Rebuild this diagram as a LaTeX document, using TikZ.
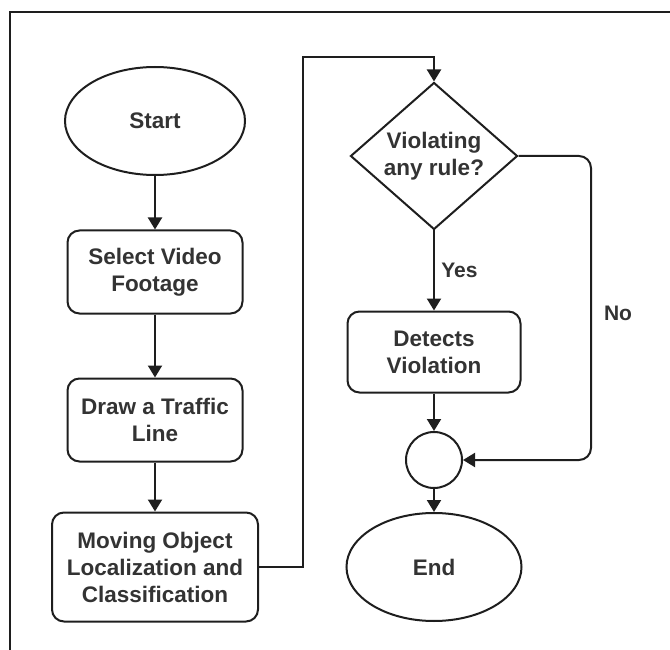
\documentclass[tikz,border=0pt]{standalone}
\usepackage{fontspec}
\setmainfont{Liberation Sans}
\usetikzlibrary{shapes.geometric,arrows.meta}
\definecolor{ln}{HTML}{1E1E1E}
\definecolor{tx}{HTML}{333333}
\begin{document}
\begin{tikzpicture}[x=1pt,y=-1pt,
  every node/.style={font=\fontsize{22.5}{27}\selectfont\bfseries, text=tx, align=center},
  shp/.style={draw=ln, line width=2pt, inner sep=0pt},
  box/.style={shp, rectangle, rounded corners=12pt},
  oval/.style={shp, ellipse},
  conn/.style={draw=ln, line width=2pt, -{Triangle[length=12pt,width=14pt]}},
  lbl/.style={font=\fontsize{21}{25}\selectfont\bfseries}]
\useasboundingbox (0,0) rectangle (670,650);
\draw[ln, line width=2pt] (10,652) -- (10,12) -- (672,12);

\node[oval, minimum width=180pt, minimum height=108pt] (start) at (155,121) {Start};
\node[box, minimum width=175pt, minimum height=83pt] (sel) at (155,272) {Select Video\\Footage};
\node[box, minimum width=175pt, minimum height=83pt] (drw) at (155,420) {Draw a Traffic\\Line};
\node[box, minimum width=206pt, minimum height=109pt] (mov) at (155,567) {Moving Object\\Localization and\\Classification};

\node[shp, diamond, minimum width=167pt, minimum height=147pt] (dia) at (434,156) {};
\node (diatext) at (dia.center) {Violating\\any rule?};
\node[box, minimum width=173pt, minimum height=81pt] (det) at (434,352) {Detects\\Violation};
\node[shp, circle, minimum size=56pt] (circ) at (434,460) {};
\node[oval, minimum width=175pt, minimum height=108pt] (end) at (434,567) {End};

\coordinate (up) at (303,57);
\coordinate (ncol) at (591,300);

\draw[conn] (start) -- (sel);
\draw[conn] (sel) -- (drw);
\draw[conn] (drw) -- (mov);
\draw[conn] (mov.east) -| (up) -| (dia.north);
\draw[conn] (dia.south) -- (det.north) node[lbl, pos=0.5, right=3pt] (yes) {Yes};
\draw[conn] (det) -- (circ);
\draw[conn] (circ) -- (end);
\draw[conn, rounded corners=12pt] (dia.east) -| (ncol) |- (circ.east);
\node[lbl] (no) at (618,313) {No};
\end{tikzpicture}
\end{document}
